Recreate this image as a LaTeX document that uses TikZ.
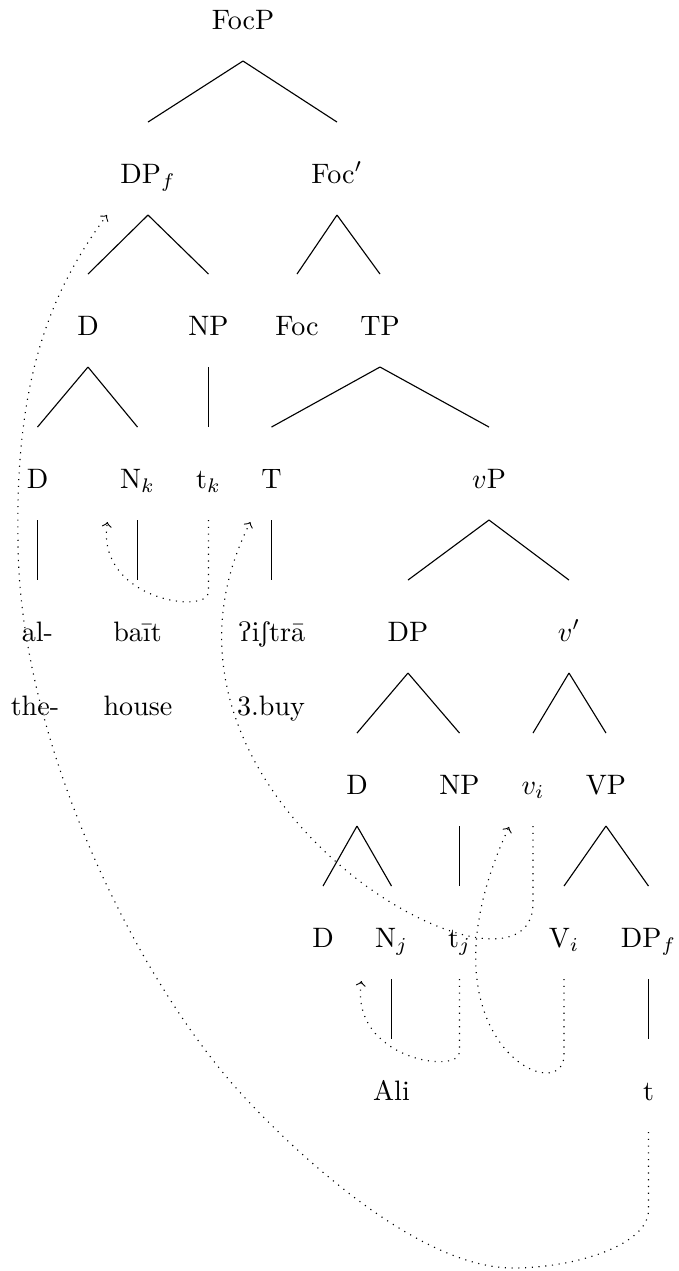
\documentclass[tikz,border=0pt]{standalone}
\usepackage{tipa}
\begin{document}
\begin{tikzpicture}[x=0.356pt,y=-0.356pt,
  lbl/.style={anchor=base,inner sep=0pt,outer sep=0pt},
  br/.style={line width=0.4pt},
  mv/.style={dotted,->,line width=0.4pt}]
\useasboundingbox (0,0) rectangle (679,1271);
\newcommand\tedge[2]{\draw[br] ([yshift=-11.4pt]#1.base) -- ([yshift=21.7pt]#2.base);}
% row 0
\node[lbl] (FocP) at (243,29) {FocP};
% row 1
\node[lbl] (DPf) at (148,183) {DP$_f$};
\node[lbl] (Focb) at (337,183) {Foc$'$};
% row 2
\node[lbl] (D1) at (88,335) {D};
\node[lbl] (NP1) at (208.5,335) {NP};
\node[lbl] (Foc) at (297,335) {Foc};
\node[lbl] (TP) at (380,335) {TP};
% row 3
\node[lbl] (D2) at (37.5,488) {D};
\node[lbl] (Nk) at (137.5,488) {N$_k$};
\node[lbl] (tk) at (208.5,488) {t$_k$};
\node[lbl] (T) at (271.5,488) {T};
\node[lbl] (vP) at (489,488) {$v$P};
% row 4
\node[lbl] (al) at (37.5,641) {al-};
\node[lbl] (bait) at (137.5,641) {baīt};
\node[lbl] (istra) at (271.5,641) {\textipa{PiStr}ā};
\node[lbl] (DP) at (408,641) {DP};
\node[lbl] (vb) at (569,641) {$v'$};
% glosses
\node[lbl] (the) at (35,715) {the-};
\node[lbl] (house) at (138,715) {house};
\node[lbl] (buy) at (271,715) {3.buy};
% row 5
\node[lbl] (D3) at (357,794) {D};
\node[lbl] (NP2) at (459.5,794) {NP};
\node[lbl] (vi) at (533,794) {$v_i$};
\node[lbl] (VP) at (606,794) {VP};
% row 6
\node[lbl] (D4) at (323,947) {D};
\node[lbl] (Nj) at (391.5,947) {N$_j$};
\node[lbl] (tj) at (459.5,947) {t$_j$};
\node[lbl] (Vi) at (564,947) {V$_i$};
\node[lbl] (DPf2) at (648.5,947) {DP$_f$};
% row 7
\node[lbl] (Ali) at (391.5,1100) {Ali};
\node[lbl] (t) at (648.5,1100) {t};
% tree edges
\tedge{FocP}{DPf}
\tedge{FocP}{Focb}
\tedge{DPf}{D1}
\tedge{DPf}{NP1}
\tedge{Focb}{Foc}
\tedge{Focb}{TP}
\tedge{D1}{D2}
\tedge{D1}{Nk}
\tedge{NP1}{tk}
\tedge{TP}{T}
\tedge{TP}{vP}
\tedge{D2}{al}
\tedge{Nk}{bait}
\tedge{T}{istra}
\tedge{vP}{DP}
\tedge{vP}{vb}
\tedge{DP}{D3}
\tedge{DP}{NP2}
\tedge{vb}{vi}
\tedge{vb}{VP}
\tedge{D3}{D4}
\tedge{D3}{Nj}
\tedge{NP2}{tj}
\tedge{VP}{Vi}
\tedge{VP}{DPf2}
\tedge{Nj}{Ali}
\tedge{DPf2}{t}
% movement arrows
\draw[mv] ([yshift=-11.4pt]tk.base) -- ++(0,72) .. controls +(0,23) and +(-12,78) .. ([xshift=-10.7pt,yshift=-12.1pt]Nk.base);
\draw[mv] ([yshift=-11.4pt]vi.base) -- ++(0,77) .. controls +(0,127) and +(-140,278) .. ([xshift=-7.5pt,yshift=-12.1pt]T.base);
\draw[mv] ([yshift=-11.4pt]Vi.base) -- ++(0,76) .. controls +(0,55) and +(-99,213) .. ([xshift=-8.5pt,yshift=-11.7pt]vi.base);
\draw[mv] ([yshift=-11.4pt]tj.base) -- ++(0,73) .. controls +(0,23) and +(-12,78) .. ([xshift=-10.7pt,yshift=-12.1pt]Nj.base);
\coordinate (w1) at (513,1268);
\coordinate (w2) at (247,1100);
\coordinate (w3) at (18,540);
\draw[mv] ([yshift=-11.4pt]t.base) -- ++(0,78)
  .. controls +(0,35) and +(62,0) .. (w1)
  .. controls +(-90,0) and +(60,64) .. (w2)
  .. controls +(-110,-117) and +(0,200) .. (w3)
  .. controls +(-3,-160) and +(-57,77) .. ([xshift=-14.6pt,yshift=-11.4pt]DPf.base);
\end{tikzpicture}
\end{document}
